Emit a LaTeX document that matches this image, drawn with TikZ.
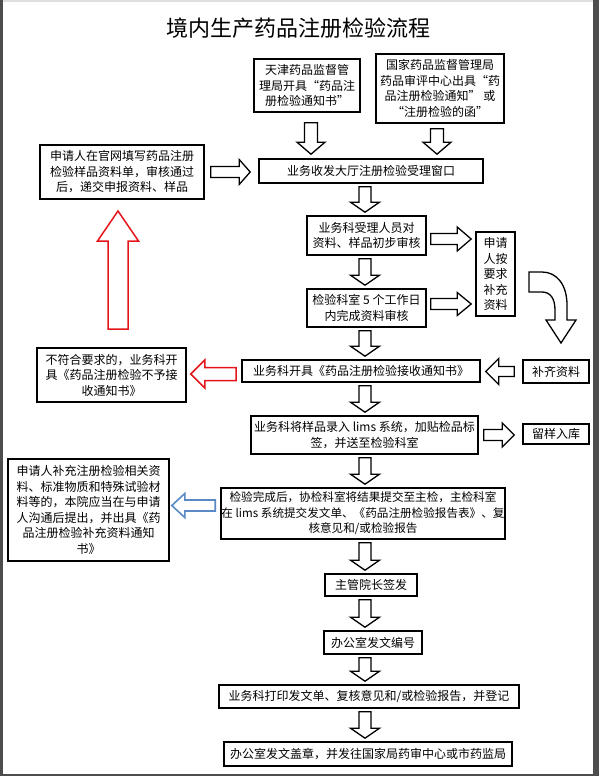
\documentclass[tikz,border=0pt]{standalone}
\usepackage{fontspec}
\setmainfont{Noto Sans CJK SC}
\usetikzlibrary{calc}
\definecolor{frame}{HTML}{4D4D4D}
\definecolor{blockred}{HTML}{E4161B}
\definecolor{blockblue}{HTML}{5A8AC6}
\tikzset{
  box/.style={draw, line width=1.6pt, inner sep=0pt, align=center,
    font=\fontsize{12}{15.5}\selectfont},
  blkline/.style={draw=black, fill=white, line width=1.3pt, line join=miter},
}
% block arrow: [style]{from}{to}{half shaft}{half head}{head length}
\newcommand\blk[6][]{%
  \coordinate (bA) at (#2); \coordinate (bB) at (#3);
  \coordinate (bH) at ($(bB)!#6!(bA)$);
  \draw[blkline,#1] ($(bA)!#4!90:(bB)$) -- ($(bH)!#4!-90:(bA)$) -- ($(bH)!#5!-90:(bA)$) -- (bB) -- ($(bH)!#5!90:(bA)$) -- ($(bH)!#4!90:(bA)$) -- ($(bA)!#4!-90:(bB)$) -- cycle;}
\begin{document}
\begin{tikzpicture}[x=1pt,y=-1pt]
\useasboundingbox (0,0) rectangle (599,776);
% page frame
\fill[gray!25] (0,0) rectangle (599,2);
\fill[frame] (0,0) rectangle (2.5,776);
\fill[frame] (593,0) rectangle (599,776);
\fill[frame] (0,774) rectangle (599,776);

\node[font=\fontsize{22}{22}\selectfont] (title) at (298,28) {境内生产药品注册检验流程};

\node[box, minimum width=106pt, minimum height=53pt] (tj) at (307,85.5) {天津药品监督管\\理局开具“药品注\\册检验通知书”};
\node[box, minimum width=128pt, minimum height=69pt] (gj) at (440,88.5) {国家药品监督管理局\\药品审评中心出具“药\\品注册检验通知” 或\\“注册检验的函”};
\node[box, minimum width=224pt, minimum height=24pt] (recv) at (371,171) {业务收发大厅注册检验受理窗口};
\node[box, minimum width=164pt, minimum height=54pt] (app) at (122,172) {申请人在官网填写药品注册\\检验样品资料单，审核通过\\后，递交申报资料、样品};
\node[box, minimum width=119pt, minimum height=39pt] (init) at (366.5,235.5) {业务科受理人员对\\资料、样品初步审核};
\node[box, minimum width=39pt, minimum height=84pt] (supp) at (495.5,274) {申请\\人按\\要求\\补充\\资料};
\node[box, minimum width=119pt, minimum height=38pt] (five) at (366.5,308) {检验科室 5 个工作日\\内完成资料审核};
\node[box, minimum width=238pt, minimum height=22pt] (accept) at (361,371) {业务科开具《药品注册检验接收通知书》};
\node[box, minimum width=149pt, minimum height=54pt] (reject) at (111.5,375) {不符合要求的，业务科开\\具《药品注册检验不予接\\收通知书》};
\node[box, minimum width=66pt, minimum height=23pt] (fill) at (556,371.5) {补齐资料};
\node[box, minimum width=227pt, minimum height=38pt] (lims) at (364.5,435) {业务科将样品录入 lims 系统，加贴检品标\\签，并送至检验科室};
\node[box, minimum width=66pt, minimum height=20pt] (keep) at (556,434) {留样入库};
\node[box, minimum width=284pt, minimum height=51pt, font=\fontsize{11.6}{15.5}\selectfont] (done) at (363,513.5) {检验完成后，协检科室将结果提交至主检，主检科室\\在 lims 系统提交发文单、《药品注册检验报告表》、复\\核意见和/或检验报告};
\node[box, minimum width=161pt, minimum height=102pt] (supp2) at (88.5,510) {申请人补充注册检验相关资\\料、标准物质和特殊试验材\\料等的，本院应当在与申请\\人沟通后提出，并出具《药\\品注册检验补充资料通知\\书》};
\node[box, minimum width=92pt, minimum height=22pt] (sign) at (371,585) {主管院长签发};
\node[box, minimum width=98pt, minimum height=23pt] (num) at (373,642.5) {办公室发文编号};
\node[box, minimum width=300pt, minimum height=23pt] (print) at (369,696.5) {业务科打印发文单、复核意见和/或检验报告，并登记};
\node[box, minimum width=288pt, minimum height=24pt] (seal) at (368,754) {办公室发文盖章，并发往国家局药审中心或市药监局};

\coordinate (col) at (365,0);

% arrows into the window
\blk{$(tj.south)+(4,10)$}{$(tj.south |- recv.north)+(4,-4)$}{6.5pt}{14pt}{12pt}
\blk{$(gj.south)+(-3,5)$}{$(gj.south |- recv.north)+(-3,-4)$}{6.5pt}{14pt}{12pt}
\blk{$(app.east)+(6,0)$}{$(app.east -| recv.west)+(-8,0)$}{5.5pt}{12.5pt}{11pt}

% main column
\foreach \a/\b in {recv/init, init/five, five/accept, accept/lims, lims/done, done/sign, sign/num, num/print, print/seal}{
  \blk{$(\a.south -| col)+(0,3)$}{$(\b.north -| col)+(0,-3)$}{6pt}{14.5pt}{10pt}
}

% side arrows
\blk{$(init.east)+(4,3.5)$}{$(init.east -| supp.west)+(-4,3.5)$}{5.5pt}{12pt}{14pt}
\blk{$(five.east)+(4,-4)$}{$(five.east -| supp.west)+(-4,-4)$}{5.5pt}{11.5pt}{14pt}
\blk{$(fill.west)+(-8,0)$}{$(fill.west -| accept.east)+(5,0)$}{5pt}{13pt}{13pt}
\blk{$(lims.east)+(5,0)$}{$(lims.east -| keep.west)+(-8,0)$}{5.5pt}{12pt}{12pt}
\blk[draw=blockred, line width=1.5pt]{$(accept.west)+(-5,3)$}{$(accept.west -| reject.east)+(4,3)$}{6.5pt}{14pt}{14pt}
\coordinate (ru1) at (118,329);
\coordinate (ru2) at (118,211);
\blk[draw=blockred, line width=1.5pt]{ru1}{ru2}{10pt}{20.5pt}{30pt}
\blk[draw=blockblue, line width=1.6pt]{$(done.west)+(-5,-8)$}{$(done.west -| supp2.east)+(2,-8)$}{5.5pt}{12pt}{13pt}

% curved arrow from supplement box down to fill box
\draw[blkline] (529,272) -- (542,272) .. controls (557,272) and (567,285) .. (567,305) -- (567,320) -- (576,320) -- (561,343) -- (546,320) -- (555,320) -- (555,310) .. controls (555,298) and (550,292) .. (542,292) -- (529,292) -- cycle;
\end{tikzpicture}
\end{document}
